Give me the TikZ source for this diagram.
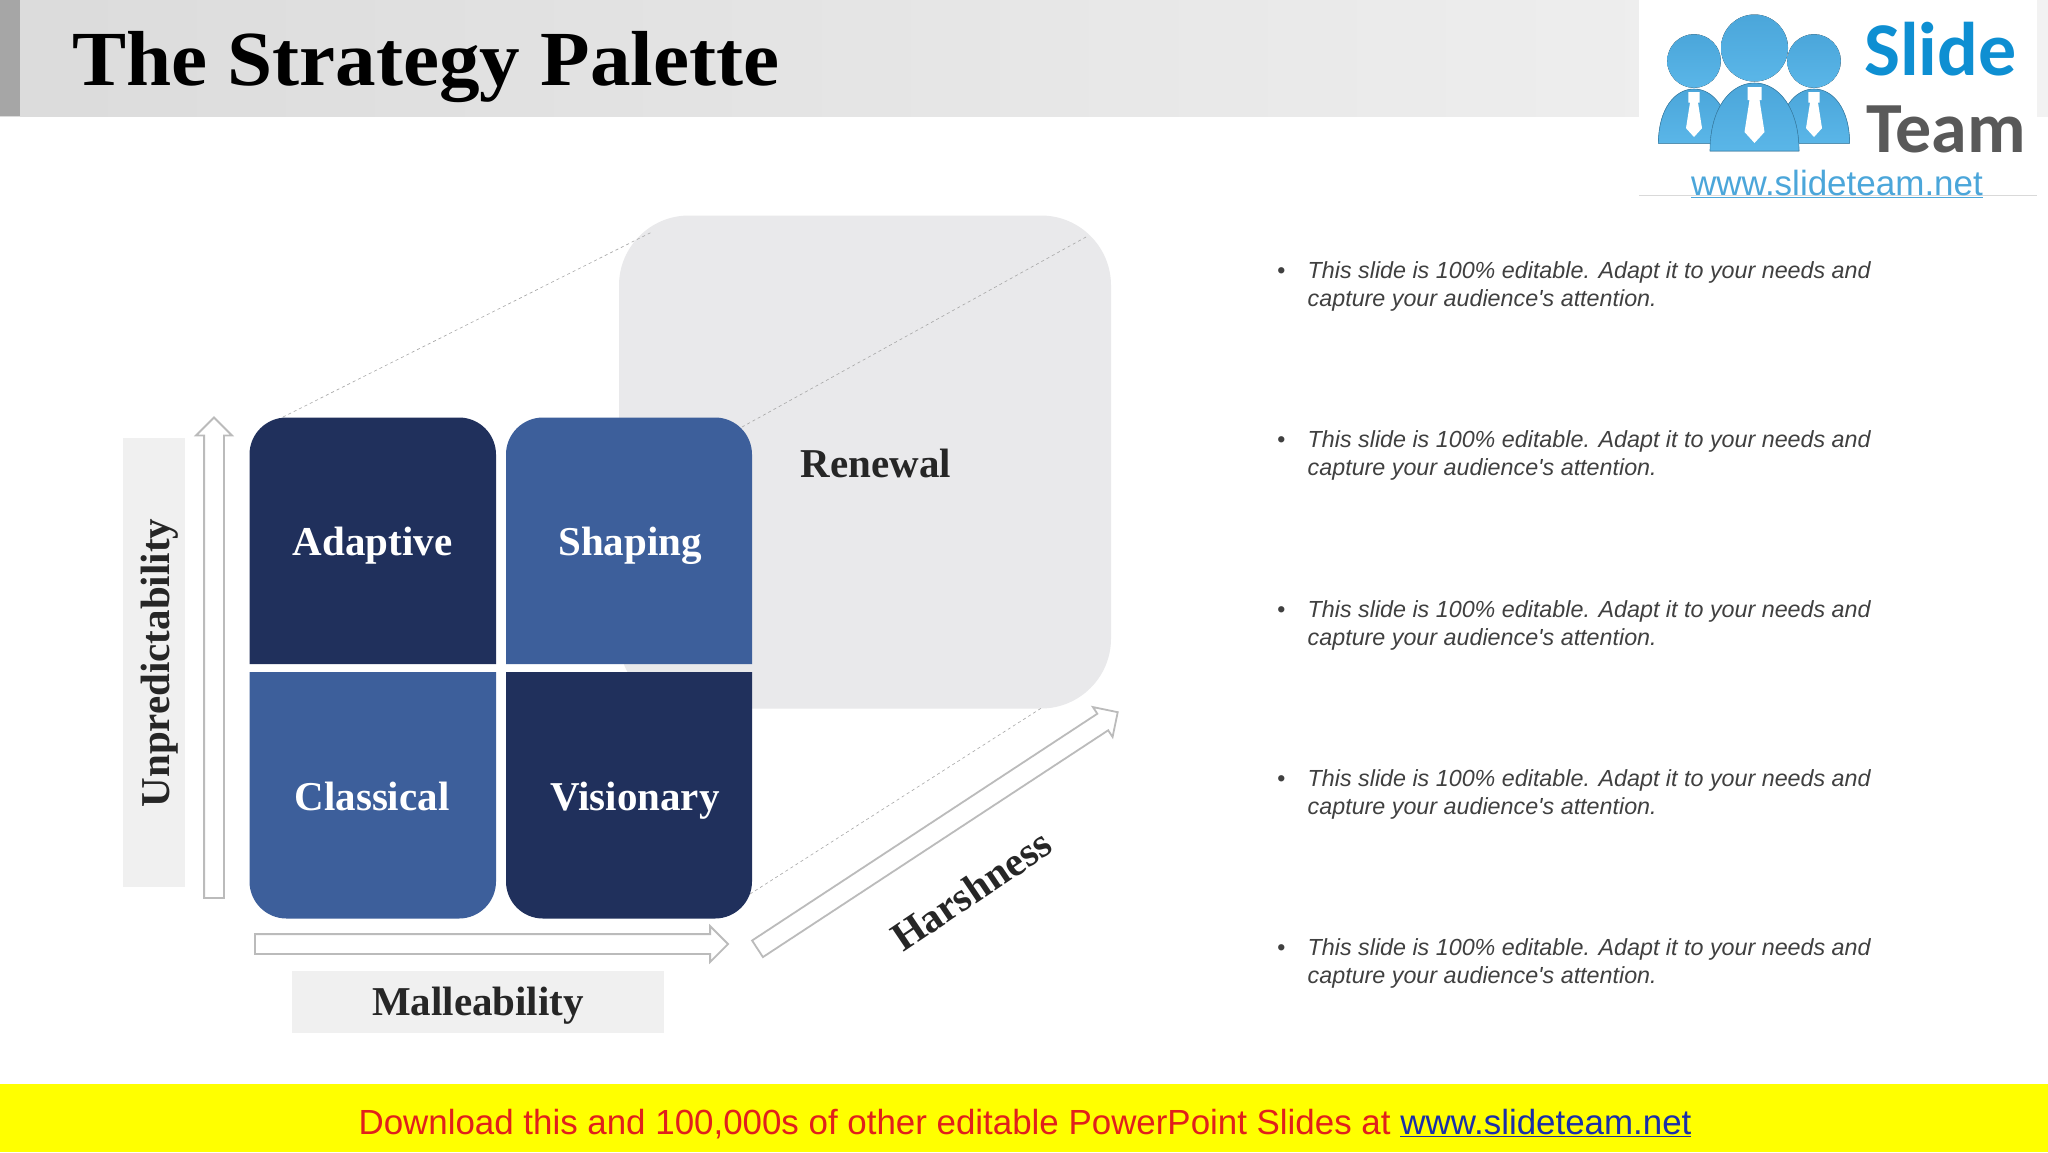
\documentclass[tikz,border=0pt]{standalone}
\usepackage{fontspec}
\setmainfont{Liberation Serif}
\newfontfamily\headfont[FakeStretch=1.04]{Liberation Serif}
\newfontfamily\bodyfont{Liberation Sans}
\newfontfamily\logofont{Carlito}
\usetikzlibrary{positioning, shapes.arrows}
\definecolor{navybox}{HTML}{20305C}
\definecolor{bluebox}{HTML}{3D5F9B}
\definecolor{greybox}{HTML}{E9E9EB}
\definecolor{labelbox}{HTML}{F0F0F0}
\definecolor{arrowline}{HTML}{BBBBBB}
\definecolor{darktext}{HTML}{262626}
\definecolor{bodytext}{HTML}{404040}
\definecolor{logoblue}{HTML}{4BA6DA}
\definecolor{logolight}{HTML}{5AB6E8}
\definecolor{logotext}{HTML}{0E8FD2}
\definecolor{bannerfill}{RGB}{255,255,0}
\definecolor{bannerred}{HTML}{E0201C}
\definecolor{bannerlink}{HTML}{1A2FA8}
\newcommand{\pointcopy}{\makebox[30.5pt][l]{\textbullet}This slide is 100\% editable. Adapt it to your needs and\\\hspace*{30.5pt}capture your audience's attention.}
\tikzset{
    person/.pic={
      \fill[top color=logoblue, bottom color=logolight] (0,0) circle [radius=33.5];
      \fill[top color=logoblue, bottom color=logolight, draw=logoblue!80!black, line width=0.6pt] (-44.5,103) .. controls (-44.5,60) and (-24,35) .. (0,35) .. controls (24,35) and (44.5,60) .. (44.5,103) -- cycle;
      \fill[white] (-7,39) -- (7,39) -- (7,52) -- (5,52) -- (10,84) -- (0,95) -- (-10,84) -- (-5,52) -- (-7,52) -- cycle;
    }
}
\begin{document}
\begin{tikzpicture}[x=1pt, y=-1pt,
        quadlabel/.style={text=white, anchor=base, font=\fontsize{41}{46}\selectfont\bfseries},
        axislabel/.style={text=darktext, anchor=base, font=\fontsize{41}{46}\selectfont\bfseries},
        axisarrow/.style={draw=arrowline, line width=1.8pt, fill=white, single arrow, single arrow head extend=8pt, inner xsep=0pt, inner ysep=9pt, outer sep=0pt, anchor=tail},
        gaplink/.style={draw=black!35, dashed, line width=0.6pt},
        pointtext/.style={text=bodytext, inner sep=0pt, align=left, font=\bodyfont\itshape\fontsize{23.3}{28}\selectfont}]
    \useasboundingbox (0,0) rectangle (2048,1152);
    \fill[white] (0,0) rectangle (2048,1152);

    % header band and footer
    \fill[left color=black!14, right color=black!5] (0,0) rectangle (2048,116);
    \fill[black!35] (0,0) rectangle (20,116);
    \node[anchor=base west, inner sep=0pt, font=\headfont\fontsize{78}{84}\selectfont\bfseries] (title) at (72,85) {The Strategy Palette};
    \fill[bannerfill] (0,1084) rectangle (2048,1152);
    \node[inner sep=0pt, font=\bodyfont\fontsize{34.9}{40}\selectfont] (download) at (1025,1124.5) {\textcolor{bannerred}{Download this and 100,000s of other editable PowerPoint Slides at }\textcolor{bannerlink}{\underline{www.slideteam.net}}};

    % logo
    \fill[white] (1639,0) rectangle (2037,195);
    \draw[black!15] (1639,195) -- (2037,195);
    \pic[scale=0.8] at (1694,61) {person};
    \pic[scale=0.8] at (1814,61) {person};
    \pic at (1754.5,48) {person};
    \node[anchor=base west, inner sep=0pt, text=logotext, font=\logofont\bfseries\fontsize{76}{78}\selectfont] (slide) at (1864,75) {Slide};
    \node[anchor=base west, inner sep=0pt, text=black!65, font=\logofont\bfseries\fontsize{72}{74}\selectfont] (team) at (1866,152) {Team};
    \node[anchor=base, inner sep=0pt, text=logoblue, font=\bodyfont\fontsize{35}{38}\selectfont] (url) at (1837,195) {\underline{www.slideteam.net}};

    % renewal panel behind the matrix
    \node[fill=greybox, rounded corners=70pt, minimum width=492pt, minimum height=493pt, inner sep=0pt] (renewal) at (865,462) {};
    \coordinate (adaptivecorner) at (283,417);
    \coordinate (renewalleft) at (652,232);
    \coordinate (shapingcorner) at (742,427);
    \coordinate (renewalright) at (1086,237);
    \coordinate (visionarycorner) at (750,894);
    \coordinate (renewalbottom) at (1043,707);
    \draw[gaplink] (adaptivecorner) -- (renewalleft);
    \draw[gaplink] (shapingcorner) -- (renewalright);
    \draw[gaplink] (visionarycorner) -- (renewalbottom);
    \node[axislabel] (renewaltext) at (876,477) {Renewal};

    % the four quadrants
    \fill[navybox, rounded corners=37pt] (249.5,664) -- (249.5,417.5) -- (496,417.5) -- (496,664);
    \fill[bluebox, rounded corners=37pt] (506,664) -- (506,417.5) -- (752,417.5) -- (752,664);
    \fill[bluebox, rounded corners=37pt] (249.5,672) -- (249.5,918.5) -- (496,918.5) -- (496,672);
    \fill[navybox, rounded corners=37pt] (506,672) -- (506,918.5) -- (752,918.5) -- (752,672);
    \node[quadlabel] (adaptive) at (372.5,555.5) {Adaptive};
    \node[quadlabel] (shaping) at (630,555.5) {Shaping};
    \node[quadlabel] (classical) at (372,810) {Classical};
    \node[quadlabel] (visionary) at (635,810) {Visionary};

    % axes
    \node[fill=labelbox, minimum width=62pt, minimum height=449pt, inner sep=0pt] (unpredbox) at (154,662.5) {};
    \node[axislabel, rotate=90] (unpred) at (169,663) {Unpredictability};
    \node[fill=labelbox, minimum width=372pt, minimum height=62pt, inner sep=0pt] (mallbox) at (478,1001.5) {};
    \node[axislabel] (mall) at (478,1015) {Malleability};
    \node[axisarrow, minimum height=480.5pt, rotate=90] (uparrow) at (214,898) {};
    \node[axisarrow, minimum height=473pt] (rightarrow) at (255,944) {};
    \node[axisarrow, minimum height=431pt, rotate=33.3] (diagarrow) at (757.5,948.8) {};
    \node[axislabel, rotate=34] (harsh) at (979,902) {Harshness};

    % bullet points
    \node[pointtext, anchor=north west] (pointa) at (1277,261.5) {\pointcopy};
    \node[pointtext] (pointb) [below=119.1pt of pointa] {\pointcopy};
    \node[pointtext] (pointc) [below=119.1pt of pointb] {\pointcopy};
    \node[pointtext] (pointd) [below=119.1pt of pointc] {\pointcopy};
    \node[pointtext] (pointe) [below=119.1pt of pointd] {\pointcopy};
\end{tikzpicture}
\end{document}
